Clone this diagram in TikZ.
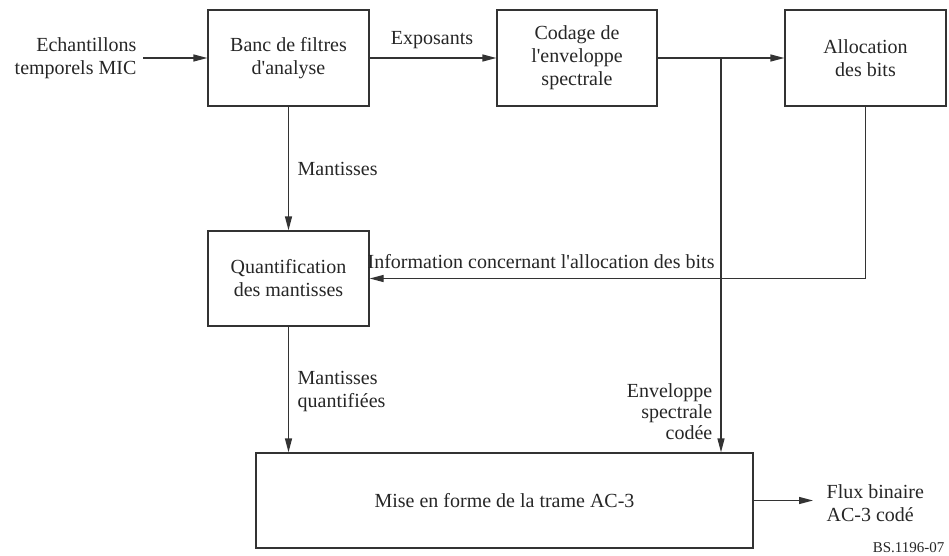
\documentclass[tikz,border=0pt]{standalone}
\usepackage{fontspec}
\setmainfont{Liberation Serif}[Ligatures=TeXOff]
\usetikzlibrary{arrows.meta}
\begin{document}
\begin{tikzpicture}[x=1pt,y=-1pt,
  line width=1.3pt,
  every node/.style={font=\fontsize{20}{23}\selectfont, text=black!85},
  blockbox/.style={draw=black!80, inner sep=0pt, align=center},
  lbl/.style={inner sep=0pt},
  flow/.style={draw=black!80, -{Triangle[length=14pt,width=7pt]}},
  plain/.style={draw=black!80}]
\useasboundingbox (0,0) rectangle (949,556);

% blocks
\node[blockbox, minimum width=161pt, minimum height=96pt] (banc) at (288.5,58) {Banc de filtres\\d'analyse};
\node[blockbox, minimum width=160pt, minimum height=96pt] (codage) at (577,58) {Codage de\\l'enveloppe\\spectrale};
\node[blockbox, minimum width=161pt, minimum height=96pt] (alloc) at (865.5,58) {Allocation\\des bits};
\node[blockbox, minimum width=161pt, minimum height=95pt] (quant) at (288.5,278.5) {Quantification\\des mantisses};
\node[blockbox, minimum width=497pt, minimum height=95pt] (mise) at (504.5,500.5) {Mise en forme de la trame AC-3};

% helper coordinates
\coordinate (src) at (143,58);
\coordinate (br) at (721,58);
\coordinate (out) at (813,500.5);

% labels
\node[lbl, anchor=east, align=right] (echant) at (137,58) {Echantillons\\temporels MIC};
\node[lbl] (expo) at (432,40) {Exposants};
\node[lbl, anchor=west] (mant) at (297,169) {Mantisses};
\node[lbl, anchor=west] (info) at (367,262) {Information concernant l'allocation des bits};
\node[lbl, anchor=west, align=left] (mantq) at (297,392) {Mantisses\\quantifiées};
\node[lbl, anchor=east, align=right, font=\fontsize{20}{21}\selectfont] (env) at (713,412) {Enveloppe\\spectrale\\codée};
\node[lbl, anchor=west, align=left] (flux) at (826,503) {Flux binaire\\AC-3 codé};
\node[lbl, anchor=east, font=\fontsize{15}{17}\selectfont] (ref) at (945,548) {BS.1196-07};

% connectors
\draw[flow] (src) -- (banc.west);
\draw[flow] (banc.east) -- (codage.west);
\draw[flow] (codage.east) -- (alloc.west);
\draw[flow] (br) -- (br |- mise.north);
\draw[flow] (banc.south) -- (quant.north);
\draw[flow] (alloc.south) |- (quant.east);
\draw[flow] (quant.south) -- (quant.south |- mise.north);
\draw[flow] (mise.east) -- (out);
\end{tikzpicture}
\end{document}
